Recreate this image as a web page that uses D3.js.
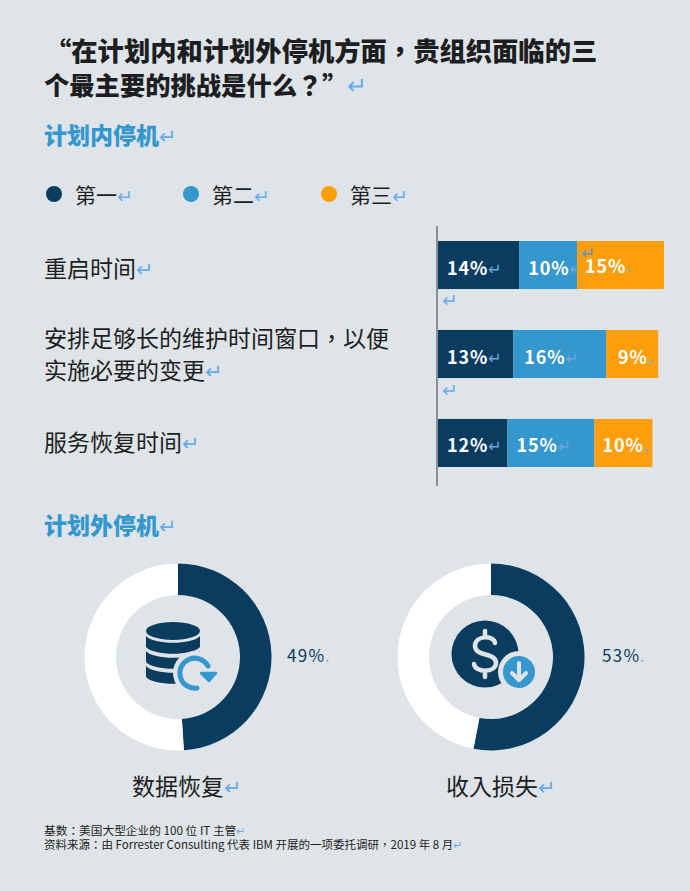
<!DOCTYPE html>
<html><head><meta charset="utf-8">
<script src="https://cdn.jsdelivr.net/npm/d3@7"></script>
<style>
html,body{margin:0;padding:0;background:#dfe4e9}
svg{display:block}
text{font-family:"Noto Sans CJK TC","Noto Sans CJK SC","Noto Sans",sans-serif}
</style></head><body><svg id="c" width="690" height="891"></svg>
<script>
const categories=["重启时间","安排足够长的维护时间窗口，以便|实施必要的变更","服务恢复时间"];
const seriesNames=["第一","第二","第三"];
const first=[14,13,12];
const second=[10,16,15];
const third=[15,9,10];
const donutNames=["数据恢复","收入损失"];
const donutValues=[49,53];
const titleLines=["“在计划内和计划外停机方面，贵组织面临的三","个最主要的挑战是什么？”"];
const footLines=["基数：美国大型企业的 100 位 IT 主管","资料来源：由 Forrester Consulting 代表 IBM 开展的一项委托调研，2019 年 8 月"];

const DARK="#0a3c5f",BLUE="#3497cd",ORANGE="#ff9e0d",INK="#1c1e21",RET="#66ade8",BG="#dfe4e9";
const colors=[DARK,BLUE,ORANGE];
const svg=d3.select("#c");
svg.append("rect").attr("width",690).attr("height",891).attr("fill",BG);

function label(x,y,s,size,fill,weight,ret){
  const t=svg.append("text").attr("x",x).attr("y",y).attr("font-size",size).attr("fill",fill).attr("font-weight",weight||400).text(s);
  if(ret){t.append("tspan").attr("fill",RET).attr("font-weight",400).attr("font-family","DejaVu Sans").attr("font-size",ret).text("↵");}
  return t;
}
const mark=(x,y,size,fill)=>label(x,y,"↵",size,fill||RET).attr("font-family","DejaVu Sans");
// title
label(45,61,titleLines[0],26.3,INK,900);
label(44,95,titleLines[1],25.3,INK,900);
mark(347,94,24);
label(44,144,"计划内停机",23,BLUE,900,21);
// legend
seriesNames.forEach((n,i)=>{
  const x=[54,191,329][i];
  svg.append("circle").attr("cx",x).attr("cy",194).attr("r",8).attr("fill",colors[i]);
  label(x+21,203,n,21,INK,400,19);
});

// stacked bars
const x=d3.scaleLinear().domain([0,39]).range([438,664]);
const y=d3.scaleBand().domain(categories).range([241,467]).paddingInner(.46);
const stack=d3.stack().keys([0,1,2]).value((d,k)=>d[k]);
const rows=categories.map((c,i)=>[first[i],second[i],third[i]]);
const layers=stack(rows);
const nudge=[[9,9,8],[9,11,12],[9,9,8]];
layers.forEach((layer,k)=>{
  layer.forEach((d,i)=>{
    const by=y(categories[i]);
    svg.append("rect").attr("x",x(d[0])).attr("y",by).attr("width",x(d[1])-x(d[0])).attr("height",y.bandwidth()).attr("fill",colors[k]);
    const offs=(k==2&&i==0)?-2:0;
    const t=svg.append("text").attr("x",x(d[0])+nudge[i][k]).attr("y",by+y.bandwidth()/2+9.5+offs)
      .attr("font-family","Noto Sans").attr("font-size",18).attr("font-weight",600).attr("letter-spacing",.9).attr("fill","#fff").text((d[1]-d[0])+"%");
    t.append("tspan").attr("fill",k==2?"#7fb0d8":"#6aa9de").attr("font-family","DejaVu Sans").attr("font-weight",400).attr("font-size",k==2?7:16).text(k==2?"◂":"↵");
  });
});
mark(581,259,17,"#5f94c6");
mark(442,307,19);
mark(442,397,19);
svg.append("line").attr("x1",437).attr("x2",437).attr("y1",226).attr("y2",486).attr("stroke","#6f7478").attr("stroke-width",1.5);

// row labels
label(44,277,categories[0],23,INK,400,21);
label(44,347,categories[1].split("|")[0],23,INK);
label(44,379,categories[1].split("|")[1],23,INK,400,21);
label(44,451,categories[2],23,INK,400,21);

label(44,534,"计划外停机",23,BLUE,900,21);

// donuts
const pie=d3.pie().sort(null);
const arc=d3.arc().innerRadius(62).outerRadius(93.5);
const cx=[178,491],cy=657;
donutValues.forEach((v,i)=>{
  const g=svg.append("g").attr("transform",`translate(${cx[i]},${cy})`);
  g.selectAll("path").data(pie([v,100-v])).join("path").attr("d",arc).attr("fill",(d,j)=>j==0?DARK:"#fff");
  const t=svg.append("text").attr("x",[287,602][i]).attr("y",662).attr("font-family","Noto Sans").attr("font-size",17).attr("letter-spacing",1.3).attr("fill",DARK).text(v+"%");
  t.append("tspan").attr("fill",RET).attr("font-size",5).attr("font-family","DejaVu Sans").text("◂");
  label([132,446][i],795,donutNames[i],23,INK,400,21);
});

// database icon
(function(){
  const g=svg.append("g").attr("transform","translate(173,648)");
  g.append("ellipse").attr("cx",0).attr("cy",-17).attr("rx",27).attr("ry",9).attr("fill",DARK);
  const band=(y0)=>`M-27,${y0} C-20,${y0+9} 20,${y0+9} 27,${y0} L27,${y0+11} C20,${y0+20} -20,${y0+20} -27,${y0+11} Z`;
  [-12,3,18].forEach(b=>g.append("path").attr("d",band(b)).attr("fill",DARK));
  g.append("circle").attr("cx",22).attr("cy",25).attr("r",22).attr("fill",BG);
  g.append("path").attr("d","M24,40 A15,15 0 1 1 35,18").attr("fill","none").attr("stroke",BLUE).attr("stroke-width",5).attr("stroke-linecap","round");
  g.append("path").attr("d","M28,25 L43,25 L36,33 Z").attr("fill",BLUE).attr("stroke",BLUE).attr("stroke-width",2.5).attr("stroke-linejoin","round");
})();
// dollar icon
(function(){
  const g=svg.append("g").attr("transform","translate(485,654)");
  g.append("circle").attr("r",33.5).attr("fill",DARK);
  g.append("path").attr("d","M10,-11 C9,-19 -10,-19 -10,-8 C-10,3 11,-2 11,9 C11,19 -10,19 -11,10 M0,-23 L0,-17 M0,17 L0,23")
    .attr("fill","none").attr("stroke",BG).attr("stroke-width",4.5).attr("stroke-linecap","round");
  g.append("circle").attr("cx",34).attr("cy",18).attr("r",21).attr("fill",BG);
  g.append("circle").attr("cx",34).attr("cy",18).attr("r",16).attr("fill",BLUE);
  g.append("path").attr("d","M34,9 L34,26 M27,19 L34,26 L41,19").attr("fill","none").attr("stroke",BG).attr("stroke-width",4).attr("stroke-linecap","round").attr("stroke-linejoin","round");
})();

// footer
label(44,835,footLines[0],11.7,INK,400,11);
label(44,849,footLines[1],11.5,INK,400,11);
</script></body></html>
